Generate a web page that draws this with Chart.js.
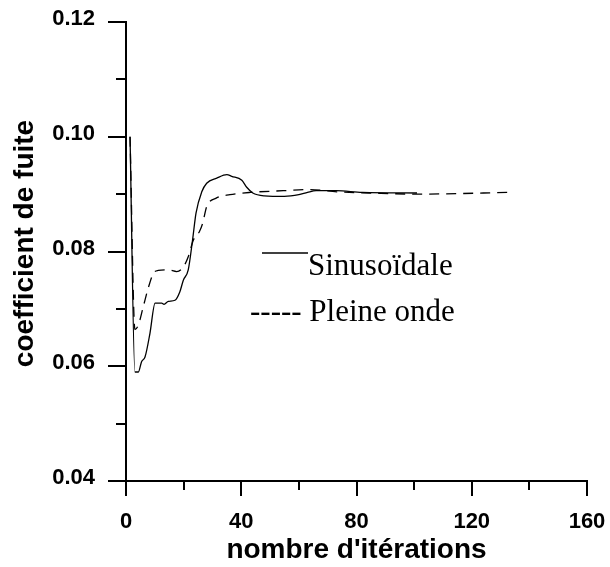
<!DOCTYPE html>
<html>
<head>
<meta charset="utf-8">
<script src="https://cdn.jsdelivr.net/npm/chart.js@4/dist/chart.umd.min.js"></script>
<style>
  html, body { margin: 0; padding: 0; background: #fff; }
  canvas { display: block; }
</style>
</head>
<body>
<canvas id="chart" width="610" height="567"></canvas>
<script>
// values
const iterSinus = [1.4, 3.1, 4.3, 5.4, 6.6, 8.3, 10.1, 12.4, 13.2, 14.7, 17, 18.7, 19.9, 21.6, 23.1, 24.3, 26.3, 28, 31.5, 35, 36.7, 40.2, 41.9, 44, 48, 55, 60, 63, 66, 73, 82, 101];
const fuiteSinus = [0.100, 0.059, 0.059, 0.0608, 0.0616, 0.0657, 0.0710, 0.0710, 0.0708, 0.0713, 0.0715, 0.0730, 0.0750, 0.0768, 0.0820, 0.0867, 0.0904, 0.0919, 0.0928, 0.0934, 0.0931, 0.0924, 0.0912, 0.0902, 0.0897, 0.0896, 0.0899, 0.0903, 0.0906, 0.0906, 0.0903, 0.0902];

const iterPleine = [1.4, 3.1, 4.3, 6, 7.7, 9.5, 11.2, 14.7, 17.6, 19.9, 21.6, 23.4, 25.5, 26.6, 28, 31.3, 36.1, 43.1, 54.6, 63.9, 73.2, 84.7, 101, 133.5];
const fuitePleine = [0.100, 0.0664, 0.0672, 0.0704, 0.0736, 0.0762, 0.0767, 0.0768, 0.0765, 0.0773, 0.0791, 0.0820, 0.0835, 0.0849, 0.0878, 0.0893, 0.0899, 0.0903, 0.0906, 0.0908, 0.0904, 0.0902, 0.0900, 0.0903];

const xTitle = "nombre d'itérations";
const yTitle = 'coefficient de fuite';
const seriesNames = ['Sinusoïdale', 'Pleine onde'];

function toPoints(xs, ys) {
    let pts = [];
    for (let i = 0; i < xs.length; ++i) {
        pts.push({x: xs[i], y: ys[i]});
    }
    return pts;
}

// tick marks (long for labelled ticks, short otherwise), y title and the legend
const decor = {
    id: 'decor',
    afterDraw: function (chart) {
        const ctx = chart.ctx;
        const a = chart.chartArea;
        const xs = chart.scales.x;
        const ys = chart.scales.y;
        ctx.save();
        ctx.strokeStyle = '#000';
        ctx.lineWidth = 2;
        ctx.beginPath();
        xs.ticks.forEach(function (t, i) {
            const px = Math.round(xs.getPixelForValue(t.value));
            ctx.moveTo(px, a.bottom);
            ctx.lineTo(px, a.bottom + (i % 2 ? 9 : 15));
        });
        ys.ticks.forEach(function (t, i) {
            const py = Math.round(ys.getPixelForValue(t.value));
            ctx.moveTo(a.left, py);
            ctx.lineTo(a.left - (i % 2 ? 10 : 18), py);
        });
        ctx.stroke();

        ctx.fillStyle = '#000';
        ctx.font = 'bold 28px "Liberation Sans", Arial, sans-serif';
        ctx.textAlign = 'center';
        ctx.textBaseline = 'alphabetic';
        ctx.save();
        ctx.translate(33, 243.5);
        ctx.rotate(-Math.PI / 2);
        ctx.fillText(yTitle, 0, 0);
        ctx.restore();

        ctx.lineWidth = 1.5;
        ctx.beginPath();
        ctx.moveTo(262, 253);
        ctx.lineTo(308, 253);
        ctx.stroke();
        ctx.font = '31px "Liberation Serif", "Times New Roman", serif';
        ctx.textAlign = 'left';
        ctx.fillText(seriesNames[0], 308, 275);
        ctx.fillText('----- ' + seriesNames[1], 250, 321);
        ctx.restore();
    }
};

const tickFont = {family: '"Liberation Sans", Arial, sans-serif', size: 22, weight: 'bold'};

new Chart(document.getElementById('chart'), {
    type: 'line',
    data: {
        datasets: [
            {label: seriesNames[0], data: toPoints(iterSinus, fuiteSinus),
             borderColor: '#000', borderWidth: 1.3, pointRadius: 0, fill: false,
             cubicInterpolationMode: 'monotone'},
            {label: seriesNames[1], data: toPoints(iterPleine, fuitePleine),
             borderColor: '#000', borderWidth: 1.3, borderDash: [10, 7], pointRadius: 0, fill: false,
             cubicInterpolationMode: 'monotone'}
        ]
    },
    options: {
        responsive: false,
        animation: false,
        devicePixelRatio: 1,
        layout: {padding: {left: 0, top: 22, right: 23, bottom: 0}},
        plugins: {legend: {display: false}, tooltip: {enabled: false}},
        scales: {
            x: {
                type: 'linear', min: 0, max: 160,
                grid: {display: false},
                border: {display: true, color: '#000', width: 2},
                ticks: {
                    stepSize: 20, autoSkip: false, maxRotation: 0, padding: 20,
                    color: '#000', font: tickFont,
                    callback: function (v, i) { return i % 2 === 0 ? String(v) : ''; }
                },
                title: {
                    display: true, text: xTitle, color: '#000',
                    font: {family: '"Liberation Sans", Arial, sans-serif', size: 28, weight: 'bold'},
                    padding: {top: 0, bottom: 0}
                },
                afterFit: function (scale) {
                    scale.height = 86;
                    scale.paddingLeft = 0;
                    scale.paddingRight = 0;
                }
            },
            y: {
                type: 'linear', min: 0.04, max: 0.12,
                grid: {display: false},
                border: {display: true, color: '#000', width: 2},
                ticks: {
                    stepSize: 0.01, autoSkip: false, padding: 23, labelOffset: -3,
                    color: '#000', font: tickFont,
                    callback: function (v, i) { return i % 2 === 0 ? v.toFixed(2) : ''; }
                },
                afterFit: function (scale) {
                    scale.width = 126;
                    scale.paddingTop = 0;
                    scale.paddingBottom = 0;
                }
            }
        }
    },
    plugins: [decor]
});
</script>
</body>
</html>
